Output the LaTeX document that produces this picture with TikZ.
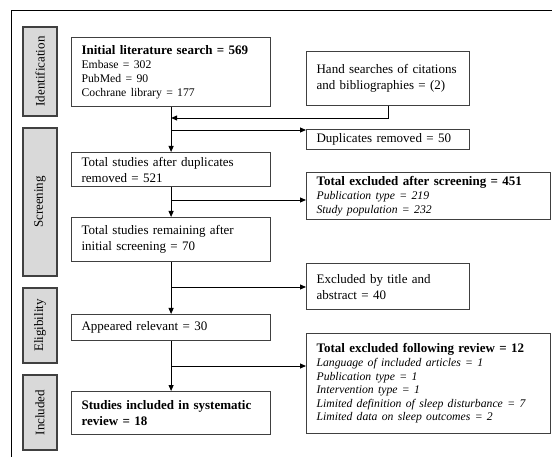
\documentclass[tikz,border=0pt]{standalone}
\usepackage{fontspec}
\setmainfont{Liberation Serif}
\usetikzlibrary{arrows.meta}
\definecolor{boxline}{HTML}{404040}
\definecolor{sidefill}{HTML}{D9D9D9}
\newcommand\itemsz{\fontsize{11.7}{13.6}\selectfont}
\begin{document}
\begin{tikzpicture}[x=1pt,y=-1pt,
 box/.style={draw=boxline, line width=1.2pt, anchor=north west, inner xsep=10pt, inner ysep=0pt, align=left, font=\fontsize{13}{16}\selectfont},
 listbox/.style={box, font=\fontsize{13}{13.6}\selectfont},
 mainw/.style={minimum width=199pt, text width=179pt},
 narrow/.style={minimum width=163pt, text width=143pt},
 wide/.style={minimum width=244pt, text width=224pt},
 side/.style={draw=boxline, fill=sidefill, line width=1.2pt, rotate=90, minimum height=34pt, inner sep=0pt, font=\fontsize{13}{16}\selectfont},
 arr/.style={-{Triangle[length=6pt,width=5pt]}, line width=0.9pt},
 ln/.style={line width=0.9pt}]
\useasboundingbox (0,0) rectangle (552,457);
\draw[ln] (11,457) -- (11,10) -- (552,10);

% stage labels
\node[side, minimum width=89pt] (sid) at (40,71.5) {Identification};
\node[side, minimum width=148pt] (sscr) at (40,202) {Screening};
\node[side, minimum width=75pt] (selig) at (40,325.5) {Eligibility};
\node[side, minimum width=75pt] (sinc) at (40,412.5) {Included};

% main column
\node[box, mainw, minimum height=69pt, font=\fontsize{13}{14}\selectfont] (init) at (71,37)
  {\textbf{Initial literature search = 569}\\{\itemsz Embase = 302}\\{\itemsz PubMed = 90}\\{\itemsz Cochrane library = 177}};
\node[box, mainw, minimum height=34pt] (dup) at (71,152) {Total studies after duplicates\\removed = 521};
\node[box, mainw, minimum height=44pt] (rem) at (71,217) {Total studies remaining after\\initial screening = 70};
\node[box, mainw, minimum height=26pt] (rel) at (71,314) {Appeared relevant = 30};
\node[box, mainw, minimum height=43pt] (inc) at (71,391) {\textbf{Studies included in systematic}\\\textbf{review = 18}};

% right column
\node[box, narrow, minimum height=54pt] (hand) at (306,51) {Hand searches of citations\\and bibliographies = (2)};
\node[box, narrow, minimum height=20pt] (dupl) at (306,129) {Duplicates removed = 50};
\node[listbox, wide, minimum height=47pt] (scr) at (306,172)
  {\textbf{Total excluded after screening = 451}\\{\itemsz\itshape Publication type = 219}\\{\itemsz\itshape Study population = 232}};
\node[box, narrow, minimum height=46pt] (title) at (306,263) {Excluded by title and\\abstract = 40};
\node[listbox, wide, minimum height=100pt] (rev) at (306,333)
  {\textbf{Total excluded following review = 12}\\{\itemsz\itshape Language of included articles = 1}\\{\itemsz\itshape Publication type = 1}\\{\itemsz\itshape Intervention type = 1}\\{\itemsz\itshape \mbox{Limited definition of sleep disturbance = 7}}\\{\itemsz\itshape Limited data on sleep outcomes = 2}};

% connectors
\coordinate (j1) at (init.south |- 0,118);
\coordinate (b1) at (init.south |- 0,130);
\coordinate (b2) at (init.south |- 0,200);
\coordinate (b3) at (init.south |- 0,287);
\coordinate (b4) at (init.south |- 0,366);
\draw[arr] (init.south) -- (dup.north);
\draw[arr] (hand.south) |- (j1);
\draw[arr] (b1) -- (dupl.west |- b1);
\draw[arr] (dup.south) -- (rem.north);
\draw[arr] (b2) -- (scr.west |- b2);
\draw[arr] (rem.south) -- (rel.north);
\draw[arr] (b3) -- (title.west |- b3);
\draw[arr] (rel.south) -- (inc.north);
\draw[arr] (b4) -- (rev.west |- b4);
\end{tikzpicture}
\end{document}
